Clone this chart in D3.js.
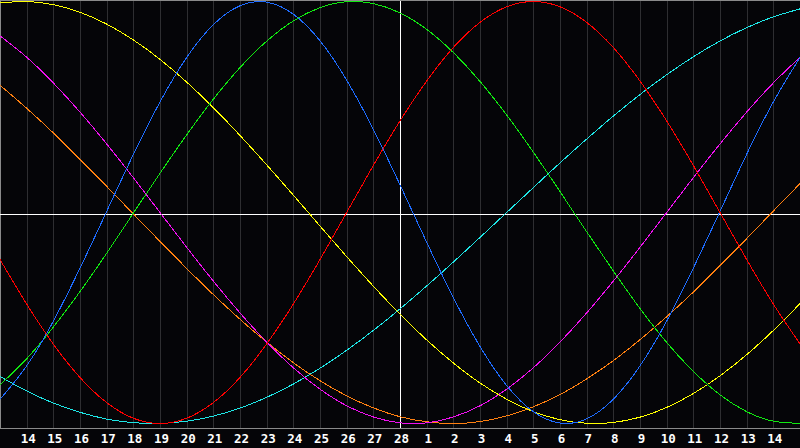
<!DOCTYPE html>
<html>
<head>
<meta charset="utf-8">
<script src="https://cdn.jsdelivr.net/npm/d3@7"></script>
<style>
  html, body { margin: 0; padding: 0; background: #050508; overflow: hidden; }
  svg { display: block; }
</style>
</head>
<body>
<div id="chart"></div>
<script>
// day labels under each grid line (index 1..29), x index 0..30
var dayLabels = ["14","15","16","17","18","19","20","21","22","23","24","25","26","27","28",
                 "1","2","3","4","5","6","7","8","9","10","11","12","13","14"];

// values read at each day line, d = 0..30, range -1..1
var physical = [-0.885,-0.727,-0.515,-0.264,0.005,0.275,0.524,0.735,0.890,0.980,0.997,0.940,0.814,0.627,0.394,0.131,
                -0.141,-0.403,-0.635,-0.820,-0.944,-0.998,-0.978,-0.885,-0.727,-0.515,-0.264,0.005,0.276,0.524,0.735];
var emotional = [-0.223,-0.434,-0.624,-0.782,-0.901,-0.975,-1.000,-0.975,-0.901,-0.782,-0.623,-0.434,-0.223,0.000,0.223,0.434,
                 0.623,0.782,0.901,0.975,1.000,0.975,0.901,0.782,0.623,0.434,0.223,0.000,-0.223,-0.434,-0.623];
var intellectual = [-0.817,-0.693,-0.543,-0.375,-0.193,-0.003,0.186,0.368,0.537,0.687,0.812,0.908,0.971,0.999,0.990,0.946,
                    0.868,0.758,0.621,0.462,0.286,0.099,-0.091,-0.277,-0.455,-0.616,-0.753,-0.864,-0.944,-0.989,-0.999];
var intuitive = [0.837,0.736,0.614,0.476,0.325,0.165,0.000,-0.165,-0.325,-0.476,-0.614,-0.736,-0.837,-0.916,-0.969,-0.997,
                 -0.997,-0.969,-0.916,-0.837,-0.736,-0.614,-0.476,-0.325,-0.165,0.000,0.165,0.325,0.476,0.614,0.736];
var aesthetic = [0.993,1.000,0.985,0.949,0.893,0.818,0.726,0.618,0.497,0.365,0.226,0.082,-0.064,-0.209,-0.349,-0.482,
                 -0.604,-0.713,-0.808,-0.885,-0.944,-0.982,-0.999,-0.995,-0.970,-0.924,-0.858,-0.774,-0.674,-0.559,-0.432];
var awareness = [0.603,0.494,0.377,0.252,0.124,-0.007,-0.137,-0.265,-0.389,-0.506,-0.614,-0.712,-0.797,-0.869,-0.926,-0.968,
                 -0.992,-1.000,-0.991,-0.964,-0.921,-0.863,-0.789,-0.702,-0.603,-0.494,-0.377,-0.252,-0.124,0.007,0.137];
var spiritual = [-0.777,-0.846,-0.903,-0.947,-0.979,-0.996,-1.000,-0.989,-0.965,-0.927,-0.876,-0.813,-0.738,-0.653,-0.559,-0.457,
                 -0.348,-0.235,-0.118,0.000,0.118,0.235,0.348,0.457,0.559,0.653,0.738,0.813,0.876,0.927,0.965];

var series = [
  {values: spiritual, color: "#1ee6e6"},
  {values: awareness, color: "#ff8010"},
  {values: intuitive, color: "#f010f0"},
  {values: aesthetic, color: "#ffff00"},
  {values: intellectual, color: "#10e810"},
  {values: physical, color: "#1e6cff"},
  {values: emotional, color: "#ff0000"}
];

var width = 800, height = 448, plotH = 428;

var svg = d3.select("#chart")
  .append("svg")
    .attr("width", width)
    .attr("height", height);

svg.append("rect")
  .attr("width", width)
  .attr("height", height)
  .attr("fill", "#050508");

var x = d3.scaleLinear().domain([0, 30]).range([0, width]);
var y = d3.scaleLinear().domain([-1, 1]).range([423.5, 1.5]);

// vertical grid
var gridIdx = d3.range(1, 30);
svg.append("g")
  .selectAll("line")
  .data(gridIdx)
  .join("line")
    .attr("x1", d => Math.round(x(d)) + 0.5)
    .attr("x2", d => Math.round(x(d)) + 0.5)
    .attr("y1", 0)
    .attr("y2", plotH)
    .attr("stroke", d => d == 15 ? "#ffffff" : "#2e2e31")
    .attr("stroke-width", 1)
    .attr("shape-rendering", "crispEdges");

// borders
svg.append("line")
  .attr("x1", 0).attr("x2", width).attr("y1", 0.5).attr("y2", 0.5)
  .attr("stroke", "#8a8a8a").attr("shape-rendering", "crispEdges");
svg.append("line")
  .attr("x1", 0.5).attr("x2", 0.5).attr("y1", 0).attr("y2", plotH)
  .attr("stroke", "#8a8a8a").attr("shape-rendering", "crispEdges");

// horizontal center line
svg.append("line")
  .attr("x1", 0).attr("x2", width)
  .attr("y1", Math.round(y(0)) + 1.5).attr("y2", Math.round(y(0)) + 1.5)
  .attr("stroke", "#ffffff").attr("shape-rendering", "crispEdges");

// curves
var line = d3.line()
  .x((d, i) => x(i))
  .y(d => y(d))
  .curve(d3.curveNatural);

svg.append("g")
  .selectAll("path")
  .data(series)
  .join("path")
    .attr("d", d => line(d.values))
    .attr("fill", "none")
    .attr("stroke", d => d.color)
    .attr("stroke-width", 1)
    .attr("shape-rendering", "crispEdges");

// bottom axis
var xAxis = d3.axisBottom(x)
  .tickValues(gridIdx)
  .tickSize(0)
  .tickPadding(6)
  .tickFormat(d => dayLabels[d - 1]);

var gx = svg.append("g")
  .attr("transform", "translate(0," + (plotH + 0.5) + ")")
  .call(xAxis);
gx.select(".domain")
  .attr("stroke", "#8a8a8a")
  .attr("d", "M0,0H" + width);
gx.selectAll("text")
  .attr("fill", "#ffffff")
  .attr("dx", 1)
  .style("font-family", "'DejaVu Sans Mono', monospace")
  .style("font-weight", "bold")
  .style("font-size", "12.5px");
</script>
</body>
</html>
